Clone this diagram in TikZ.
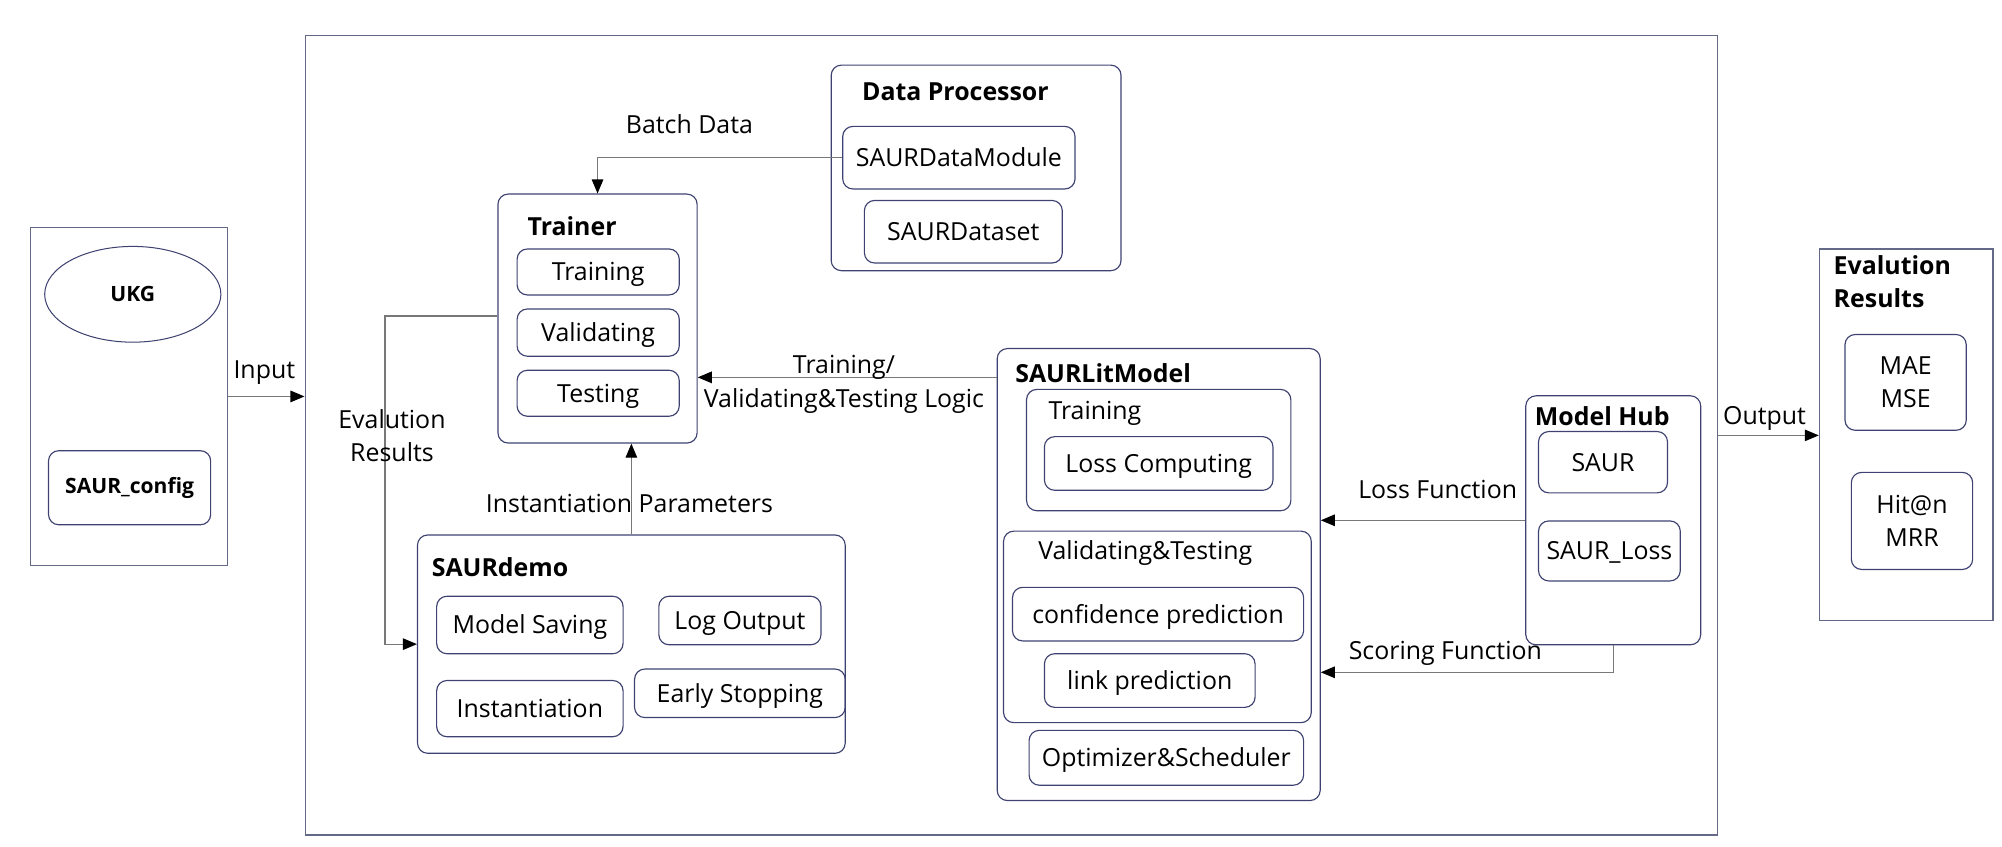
\documentclass[tikz,border=0pt]{standalone}
\usepackage{fontspec}
\setmainfont{Open Sans}
\usetikzlibrary{arrows.meta,calc,shapes.geometric}
\definecolor{bc}{RGB}{62,66,112}
\definecolor{oc}{RGB}{100,105,135}
\definecolor{ac}{RGB}{120,120,120}
\newcommand\fs{\fontsize{19.5}{26}\selectfont}
\newcommand\fsm{\fontsize{16.5}{19}\selectfont}
% \rbox[style]{name}{x1}{y1}{x2}{y2}{text}
\newcommand\rbox[7][]{\node[box,#1,minimum width={(#5)-(#3)},minimum height={(#6)-(#4)}] (#2) at ({((#3)+(#5))/2},{((#4)+(#6))/2}) {#7};}
\begin{document}
\begin{tikzpicture}[x=1pt,y=-1pt,
  box/.style={draw=bc, line width=0.9pt, rounded corners=8pt, inner sep=0pt, align=center, font=\fs},
  obox/.style={draw=oc, line width=1pt, rounded corners=0pt},
  arr/.style={draw=ac, line width=1pt, -{Triangle[length=11pt,width=9pt,color=black,fill=black]}},
  ttl/.style={font=\fs\bfseries, anchor=west, inner sep=0pt},
  lbl/.style={font=\fs, inner sep=0pt, align=center},
  one/.style={text height=15pt, text depth=1pt}]
\useasboundingbox (0,0) rectangle (1568,663);
% input side
\rbox[obox]{inp}{24}{178}{178}{443}{}
\node[draw=bc, line width=0.8pt, ellipse, minimum width=138pt, minimum height=75pt, inner sep=0pt, font=\fsm\bfseries] (ukg) at (104,230.5) {UKG};
\rbox[font=\fsm\bfseries]{cfg}{38}{353}{165}{411}{SAUR\_config}
% main frame
\rbox[obox]{main}{239}{28}{1345}{654}{}
% data processor
\rbox{dp}{651}{51}{878}{212}{}
\node[ttl] (dpt) at (675,72) {Data Processor};
\rbox[one]{sdm}{660}{99}{842}{148}{SAURDataModule}
\rbox[one]{sds}{677}{157}{832}{206}{SAURDataset}
% trainer
\rbox{tr}{390}{152}{546}{347}{}
\node[ttl] (trt) at (413,177) {Trainer};
\rbox[one]{trn}{405}{195}{532}{231}{Training}
\rbox[one]{val}{405}{242}{532}{279}{Validating}
\rbox[one]{tst}{405}{290}{532}{326}{Testing}
% SAURdemo
\rbox{demo}{327}{419}{662}{590}{}
\node[ttl] (demot) at (338,444) {SAURdemo};
\rbox[one]{ms}{342}{467}{488}{512}{Model Saving}
\rbox[one]{lo}{516}{467}{643}{505}{Log Output}
\rbox[one]{ins}{342}{533}{488}{577}{Instantiation}
\rbox[one]{es}{497}{524}{662}{562}{Early Stopping}
% SAURLitModel
\rbox{lit}{781}{273}{1034}{627}{}
\node[ttl] (litt) at (795,292) {SAURLitModel};
\rbox{ltr}{804}{305}{1011}{400}{}
\node[lbl, anchor=west] (ltrt) at (821,324) {Training};
\rbox[one]{lc}{818}{342}{997}{384}{Loss Computing}
\rbox{vt}{786}{416}{1027}{566}{}
\node[lbl, anchor=west] (vtt) at (813,433) {Validating\&Testing};
\rbox[one]{cp}{793}{460}{1021}{502}{confidence prediction}
\rbox[one]{lp}{818}{512}{983}{554}{link prediction}
\rbox[one]{os}{806}{572}{1021}{615}{Optimizer\&Scheduler}
% Model hub
\rbox{hub}{1195}{310}{1332}{505}{}
\node[ttl] (hubt) at (1202,326) {Model Hub};
\rbox[one]{saur}{1205}{338}{1306}{386}{SAUR}
\rbox[one]{sl}{1205}{408}{1316}{455}{SAUR\_Loss}
% evaluation results
\rbox[obox]{ev}{1425}{195}{1561}{486}{}
\node[ttl, align=left, anchor=north west] (evt) at (1436,200) {Evalution\\Results};
\rbox{mae}{1445}{262}{1540}{337}{MAE\\MSE}
\rbox{hit}{1450}{370}{1545}{446}{Hit@n\\MRR}
% connectors
\draw[arr] (inp.east) -- (inp.east -| main.west);
\node[lbl] (inl) at (207,292) {Input};
\draw[arr] (main.east) -- (main.east -| ev.west);
\node[lbl] (outl) at (1382,328) {Output};
\draw[arr] (sdm.west) -| (tr.north);
\node[lbl] (bdl) at (540,97) {Batch Data};
\draw[arr] ([yshift=-23pt]lit.north west) coordinate (tl) -- (tl -| tr.east);
\node[lbl] (tvl) at (661,301) {Training/\\Validating\&Testing Logic};
\draw[arr] ([yshift=-96pt]tr.north west) -- ++(-88,0) |- (demo.west);
\node[lbl] (erl) at (307,341) {Evalution\\Results};
\draw[arr] (demo.north) -- (demo.north |- tr.south);
\node[lbl] (ipl) at (493,394) {Instantiation Parameters};
\draw[arr] (hub.west) -- (hub.west -| lit.east);
\node[lbl] (lfl) at (1126,383) {Loss Function};
\draw[arr] (hub.south) |- ([yshift=-254pt]lit.north east);
\node[lbl] (sfl) at (1132,512) {Scoring Function};
\end{tikzpicture}
\end{document}
